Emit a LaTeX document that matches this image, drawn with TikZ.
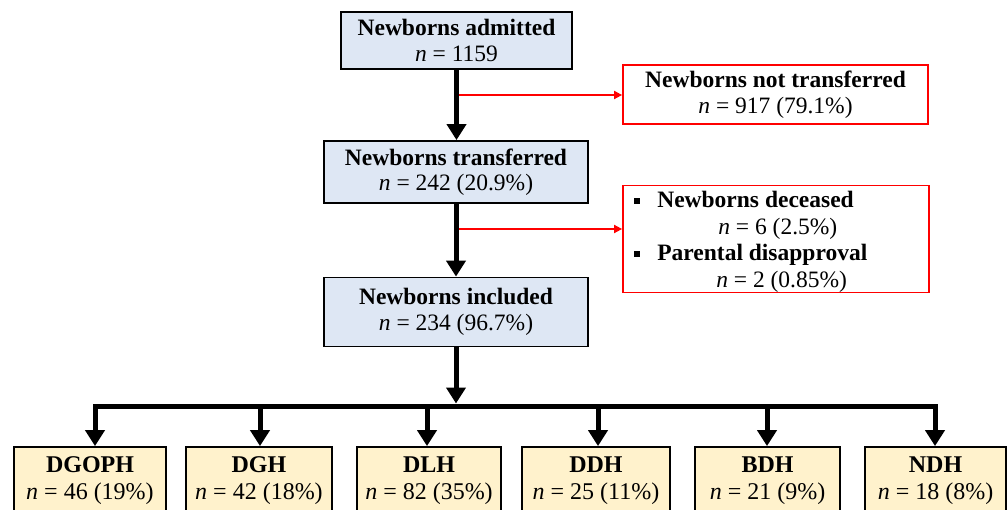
\documentclass[tikz,border=0pt]{standalone}
\usepackage{fontspec}
\setmainfont{Liberation Serif}
\usetikzlibrary{arrows.meta}
\definecolor{boxblue}{HTML}{DEE7F4}
\definecolor{boxyellow}{HTML}{FFF2CC}
\tikzset{
  bluebox/.style={draw=black, line width=1.8pt, fill=boxblue, align=center, inner sep=0pt,
    font=\fontsize{23.5}{25.5}\selectfont},
  redbox/.style={draw=red, line width=1.8pt, fill=white, inner sep=0pt,
    font=\fontsize{23.5}{25.5}\selectfont},
  yelbox/.style={draw=black, line width=1.8pt, fill=boxyellow, align=center, inner sep=0pt,
    font=\fontsize{24}{27}\selectfont},
  bigarrow/.style={line width=5pt, -{Triangle[width=19pt,length=16pt]}},
  bigline/.style={line width=5pt},
  redarrow/.style={draw=red, line width=1.8pt, -{Triangle[width=8pt,length=8pt]}},
}
\begin{document}
\begin{tikzpicture}[x=1pt,y=-1pt]
\clip (0,0) rectangle (1008,510);
\fill[white] (0,0) rectangle (1008,510);

% main column
\node[bluebox, minimum width=231pt, minimum height=57pt] (adm) at (456.5,40.5)
  {\textbf{Newborns admitted}\\\textit{n} = 1159};
\node[bluebox, minimum width=264pt, minimum height=62pt] (trans) at (456,172)
  {\textbf{Newborns transferred}\\\textit{n} = 242 (20.9\%)};
\node[bluebox, minimum width=264pt, minimum height=69pt] (incl) at (456,312)
  {\textbf{Newborns included}\\\textit{n} = 234 (96.7\%)};

% exclusion boxes
\node[redbox, align=center, minimum width=305pt, minimum height=59pt] (nt) at (775.5,94.5)
  {\textbf{Newborns not transferred}\\\textit{n} = 917 (79.1\%)};
\node[redbox, minimum width=306pt, minimum height=107pt] (ex) at (776,239) {};
\node[anchor=west, align=left, inner sep=0pt, font=\fontsize{23.5}{26.5}\selectfont]
  (ext) at ([xshift=12pt,yshift=-3pt]ex.west)
  {\raisebox{4pt}{\rule{6pt}{6pt}}\hspace{17pt}\textbf{Newborns deceased}\\
   \hspace{84pt}\textit{n} = 6 (2.5\%)\\
   \raisebox{4pt}{\rule{6pt}{6pt}}\hspace{17pt}\textbf{Parental disapproval}\\
   \hspace{82pt}\textit{n} = 2 (0.85\%)};

% hospital boxes
\node[yelbox, minimum width=152pt, minimum height=67pt] (b1) at (90,480.5)
  {\textbf{DGOPH}\\\textit{n} = 46 (19\%)};
\node[yelbox, minimum width=146pt, minimum height=67pt] (b2) at (259,480.5)
  {\textbf{DGH}\\\textit{n} = 42 (18\%)};
\node[yelbox, minimum width=144pt, minimum height=67pt] (b3) at (429,480.5)
  {\textbf{DLH}\\\textit{n} = 82 (35\%)};
\node[yelbox, minimum width=148pt, minimum height=67pt] (b4) at (596,480.5)
  {\textbf{DDH}\\\textit{n} = 25 (11\%)};
\node[yelbox, minimum width=145pt, minimum height=67pt] (b5) at (767.5,480.5)
  {\textbf{BDH}\\\textit{n} = 21 (9\%)};
\node[yelbox, minimum width=141pt, minimum height=67pt] (b6) at (935.5,480.5)
  {\textbf{NDH}\\\textit{n} = 18 (8\%)};

% red side arrows
\coordinate (r1) at (456.5,95);
\coordinate (r2) at (456,229);
\draw[redarrow] (r1) -- (r1 -| nt.west);
\draw[redarrow] (r2) -- (r2 -| ex.west);

% main trunk
\draw[bigarrow] (adm.south) -- (adm.south |- trans.north);
\draw[bigarrow] (trans.south) -- (trans.south |- incl.north);
\coordinate (jc) at (456,403.5);
\draw[bigarrow] (incl.south) -- (jc);

% distribution bar
\coordinate (j1) at (95,406);
\coordinate (j2) at (260,406);
\coordinate (j3) at (427,406);
\coordinate (j4) at (598,406);
\coordinate (j5) at (767,406);
\coordinate (j6) at (935,406);
\draw[bigline, line cap=rect] (j1) -- (j6);
\draw[bigarrow] (j1) -- (j1 |- b1.north);
\draw[bigarrow] (j2) -- (j2 |- b2.north);
\draw[bigarrow] (j3) -- (j3 |- b3.north);
\draw[bigarrow] (j4) -- (j4 |- b4.north);
\draw[bigarrow] (j5) -- (j5 |- b5.north);
\draw[bigarrow] (j6) -- (j6 |- b6.north);
\end{tikzpicture}
\end{document}
